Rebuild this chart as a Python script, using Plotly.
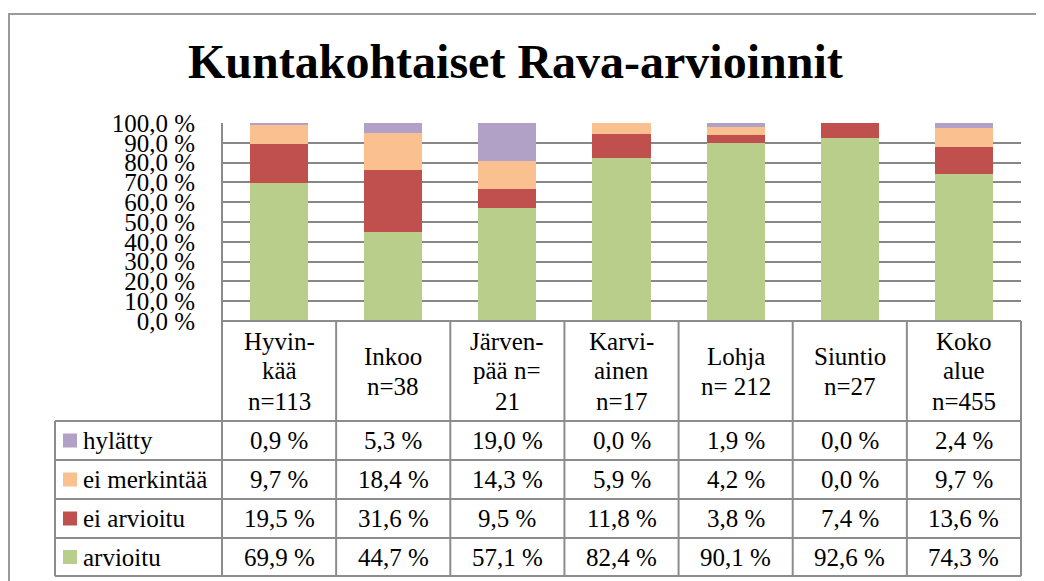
import plotly.graph_objects as go

# ---------------- data ----------------
municipalities = ["Hyvinkää", "Inkoo", "Järvenpää", "Karviainen", "Lohja", "Siuntio", "Koko alue"]
header_labels = [
    ["Hyvin-", "kää", "n=113"],
    ["Inkoo", "n=38"],
    ["Järven-", "pää n=", "21"],
    ["Karvi-", "ainen", "n=17"],
    ["Lohja", "n= 212"],
    ["Siuntio", "n=27"],
    ["Koko", "alue", "n=455"],
]
series_names = ["hylätty", "ei merkintää", "ei arvioitu", "arvioitu"]  # table order (top to bottom)
hylatty = [0.9, 5.3, 19.0, 0.0, 1.9, 0.0, 2.4]
ei_merkintaa = [9.7, 18.4, 14.3, 5.9, 4.2, 0.0, 9.7]
ei_arvioitu = [19.5, 31.6, 9.5, 11.8, 3.8, 7.4, 13.6]
arvioitu = [69.9, 44.7, 57.1, 82.4, 90.1, 92.6, 74.3]
series_colors = ["#B2A1C7", "#FAC090", "#C0504D", "#B8CE8A"]
y_tickvals = [0, 10, 20, 30, 40, 50, 60, 70, 80, 90, 100]
y_ticktext = ["0,0 %", "10,0 %", "20,0 %", "30,0 %", "40,0 %", "50,0 %",
              "60,0 %", "70,0 %", "80,0 %", "90,0 %", "100,0 %"]
title_text = "Kuntakohtaiset Rava-arvioinnit"

series_values = [hylatty, ei_merkintaa, ei_arvioitu, arvioitu]

# ---------------- layout geometry (page pixels) ----------------
OFF = 8                      # default page body margin
W, H = 1044 - OFF, 581 - OFF
FONT = "Liberation Serif, Times New Roman, serif"
plot_left, plot_right = 222, 1021
plot_top, plot_bottom = 123, 321
legend_left = 55
header_bottom = 421
row_edges = [421, 460, 499, 538, 576]
LINE = "#8C8C8C"


def px(x):
    return (x - OFF) / W


def py(y):
    return 1 - (y - OFF) / H


fig = go.Figure()

# stacked bars: bottom series first
for name, vals, col in reversed(list(zip(series_names, series_values, series_colors))):
    fig.add_trace(go.Bar(
        x=municipalities, y=vals, name=name,
        marker=dict(color=col, line=dict(width=0)),
        showlegend=False,
    ))

shapes = []
annotations = []

dom0, dom1 = px(plot_left), px(plot_right)
colw = (dom1 - dom0) / len(municipalities)

# outer chart frame
shapes.append(dict(type="path", xref="paper", yref="paper",
                   path=f"M {px(9)} {py(590)} L {px(9)} {py(14)} L {px(1050)} {py(14)}",
                   line=dict(color="#9A9A9A", width=2)))

# table top line (0 % line)
shapes.append(dict(type="line", xref="paper", yref="paper",
                   x0=dom0, x1=dom1, y0=py(plot_bottom), y1=py(plot_bottom),
                   line=dict(color=LINE, width=2)))
# table horizontal lines
for ye in row_edges:
    shapes.append(dict(type="line", xref="paper", yref="paper",
                       x0=px(legend_left), x1=dom1, y0=py(ye), y1=py(ye),
                       line=dict(color=LINE, width=2)))
# table vertical lines
for k in range(len(municipalities) + 1):
    xk = dom0 + k * colw
    y_start = plot_top if k == 0 else plot_bottom
    shapes.append(dict(type="line", xref="paper", yref="paper",
                       x0=xk, x1=xk, y0=py(y_start), y1=py(row_edges[-1]),
                       line=dict(color=LINE, width=2)))
shapes.append(dict(type="line", xref="paper", yref="paper",
                   x0=px(legend_left), x1=px(legend_left), y0=py(header_bottom), y1=py(row_edges[-1]),
                   line=dict(color=LINE, width=2)))

# header labels
hdr_center = (plot_bottom + header_bottom) / 2
pitch = 30
for i, lines in enumerate(header_labels):
    n = len(lines)
    for j, t in enumerate(lines):
        yc = hdr_center + (j - (n - 1) / 2) * pitch
        annotations.append(dict(x=municipalities[i], xref="x", y=py(yc), yref="paper",
                                text=t, showarrow=False, xanchor="center", yanchor="middle",
                                font=dict(family=FONT, size=25, color="black")))

# table rows
for r, (name, vals, col) in enumerate(zip(series_names, series_values, series_colors)):
    yc = (row_edges[r] + row_edges[r + 1]) / 2
    # legend key
    shapes.append(dict(type="rect", xref="paper", yref="paper",
                       x0=px(63), x1=px(77), y0=py(yc - 7), y1=py(yc + 7),
                       fillcolor=col, line=dict(width=0)))
    annotations.append(dict(x=px(81), xref="paper", y=py(yc), yref="paper",
                            text=name, showarrow=False, xanchor="left", yanchor="middle",
                            font=dict(family=FONT, size=25, color="black")))
    for i, v in enumerate(vals):
        annotations.append(dict(x=municipalities[i], xref="x", y=py(yc), yref="paper",
                                text=f"{v:.1f} %".replace(".", ","), showarrow=False,
                                xanchor="center", yanchor="middle",
                                font=dict(family=FONT, size=25, color="black")))

# title
annotations.append(dict(x=px(515), xref="paper", y=py(62), yref="paper",
                        text=f"<b>{title_text}</b>", showarrow=False,
                        xanchor="center", yanchor="middle",
                        font=dict(family=FONT, size=48, color="black")))

fig.update_layout(
    width=W, height=H,
    margin=dict(l=0, r=0, t=0, b=0, autoexpand=False),
    paper_bgcolor="white", plot_bgcolor="white",
    barmode="stack", bargap=0.49,
    shapes=shapes, annotations=annotations,
    xaxis=dict(domain=[dom0, dom1], range=[-0.5, len(municipalities) - 0.5],
               showticklabels=False, showgrid=False, zeroline=False, showline=False,
               automargin=False,
               categoryorder="array", categoryarray=municipalities, fixedrange=True),
    yaxis=dict(domain=[py(plot_bottom), py(plot_top)], range=[0, 100],
               tickvals=y_tickvals, ticktext=y_ticktext,
               showgrid=True, gridcolor="#878787", gridwidth=2,
               zeroline=False, showline=False, ticks="", automargin=False,
               ticklabelstandoff=26,
               tickfont=dict(family=FONT, size=25, color="black"), fixedrange=True),
)

fig.write_html("out.html")
